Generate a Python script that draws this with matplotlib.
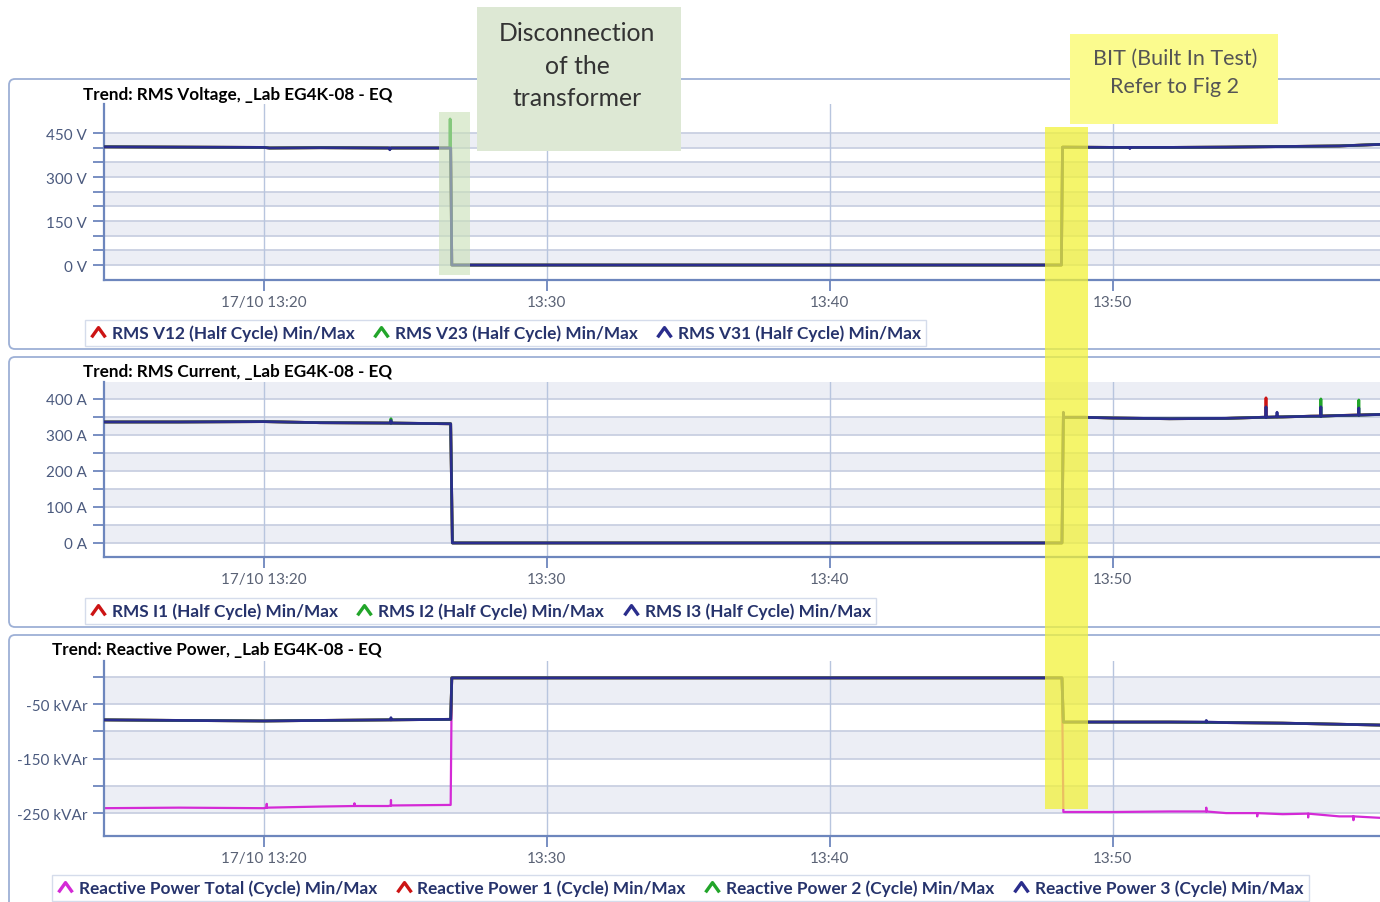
import numpy as np
import matplotlib.pyplot as plt
from matplotlib.lines import Line2D
from matplotlib.path import Path
from matplotlib.patches import Rectangle, FancyBboxPatch
from matplotlib.transforms import blended_transform_factory

plt.rcParams['font.family'] = ['Lato', 'DejaVu Sans']

# time in minutes after 13:00 on 17/10
x_ticks = [20, 30, 40, 50]
x_tick_labels = ['17/10 13:20', '13:30', '13:40', '13:50']

# RMS voltage (phases overlap)
t_volt = [14.3, 17.0, 20.0, 20.2, 22.0, 24.4, 24.45, 24.5, 26.6, 26.64, 35.0, 48.18, 48.22, 50.0, 52.0, 54.0, 56.0, 58.0, 59.9]
v_base = [403, 402, 401, 399, 400, 399, 395, 399, 399, 0, 0, 0, 402, 401, 401, 402, 404, 406, 413]
# spikes: (time, foot, top)
v12_spikes = []
v23_spikes = [(26.58, 399, 498)]
v31_spikes = [(24.45, 399, 393), (50.6, 401, 397)]

# RMS current
t_cur = [14.3, 17.0, 20.0, 22.0, 24.4, 26.6, 26.66, 35.0, 48.2, 48.25, 49.0, 50.0, 52.0, 54.0, 55.3, 56.0, 57.0, 58.0, 59.9]
i_base = [336, 336, 337, 334, 333, 331, 0, 0, 0, 349, 349, 347, 345, 346, 349, 350, 352, 354, 358]
i1_spikes = [(55.41, 349, 403)]
i2_spikes = [(24.49, 333, 345), (57.35, 352, 400), (58.69, 355, 397)]
i3_spikes = [(48.25, 349, 363), (55.41, 349, 378), (55.8, 350, 363), (57.35, 352, 378), (58.69, 355, 375), (24.49, 333, 340)]

# Reactive power
t_q = [14.3, 17.0, 20.0, 22.0, 24.4, 26.6, 26.64, 35.0, 48.2, 48.25, 50.0, 52.0, 54.0, 56.0, 58.0, 59.9]
q_phase = [-79, -80, -81, -80, -79, -78, -2, -2, -2, -83, -83, -83, -84, -85, -87, -89]
q_total = [-241, -240, -241, -238, -237, -235, -2, -2, -2, -248, -248, -247, -250, -252, -256, -260]
q_total_spikes = [(20.1, -240, -233), (24.49, -236, -226), (23.2, -237, -232), (53.3, -247, -240), (55.1, -250, -256), (56.9, -251, -258), (58.5, -256, -263)]
q3_spikes = [(24.49, -79, -75), (53.3, -83, -80)]

# event markers (minutes)
disc_band = (26.18, 27.28)
bit_band = (47.60, 49.12)

RED = '#cc1414'
GREEN = '#22a52a'
NAVY = '#2a2d8c'
MAGENTA = '#d42ad6'
FRAME = '#9db0d6'
SPINE = '#6d86bd'


def spiked(t, v, spikes):
    t = list(t)
    v = list(v)
    for ts, foot, top in spikes:
        t += [ts - 0.001, ts, ts + 0.001]
        v += [foot, top, foot]
    order = np.argsort(t, kind='stable')
    return np.array(t)[order], np.array(v)[order]


fig = plt.figure(figsize=(13.8, 9.03), dpi=100)
H = 903.0

xlim = (14.35, 14.35 + 1290 / 28.3)


def make_axes(top_px, bot_px, ylim, ticks, labels):
    ax = fig.add_axes([104 / 1380, 1 - bot_px / H, 1290 / 1380, (bot_px - top_px) / H])
    ax.set_xlim(*xlim)
    ax.set_ylim(*ylim)
    ax.set_facecolor('white')
    # alternating bands
    for k in range(len(ticks) - 1):
        if k % 2 == 0:
            ax.axhspan(ticks[k], ticks[k + 1], color='#eceef5', lw=0, zorder=0)
    ax.axhspan(ticks[-1], ylim[1], color='#eceef5' if (len(ticks) - 1) % 2 == 0 else 'white', lw=0, zorder=0)
    for y in ticks:
        ax.axhline(y, color='#c9d0e2', lw=1.3, zorder=0.5)
    for x in x_ticks:
        ax.axvline(x, color='#b8c5de', lw=1, zorder=0.5)
    ax.set_yticks(ticks)
    ax.set_yticklabels(labels)
    ax.set_xticks(x_ticks)
    ax.set_xticklabels(x_tick_labels)
    for s in ['top', 'right']:
        ax.spines[s].set_visible(False)
    for s in ['left', 'bottom']:
        ax.spines[s].set_color(SPINE)
        ax.spines[s].set_linewidth(1.6)
    ax.tick_params(axis='y', colors=SPINE, labelcolor='#4b5a7e', length=8, width=1.3, labelsize=11, pad=4)
    ax.tick_params(axis='x', colors=SPINE, labelcolor='#5a6275', length=8, width=1.3, labelsize=11, pad=3)
    return ax


caret = Path([(-1, -0.7), (0, 0.7), (1, -0.7)], [Path.MOVETO, Path.LINETO, Path.LINETO])


def add_legend(ax, colors, labels, x_px, y_px, colsp):
    handles = [Line2D([], [], color=c, marker=caret, linestyle='none', markersize=10,
                      markerfacecolor='none', markeredgewidth=2.4) for c in colors]
    leg = ax.legend(handles, labels, ncol=len(labels), loc='center left',
                    bbox_to_anchor=(x_px / 1380, 1 - y_px / H), bbox_transform=fig.transFigure,
                    frameon=True, fancybox=False, edgecolor='#cbd4e6', labelcolor='#26336c',
                    prop=dict(family='Lato', weight='bold', size=12.4),
                    handlelength=0.9, handletextpad=0.35, columnspacing=colsp,
                    borderpad=0.3, borderaxespad=0)
    leg.get_frame().set_linewidth(1.0)
    return leg


# panel frames
for top, bot in [(80, 350), (358, 628), (636, 915)]:
    fig.add_artist(FancyBboxPatch((0.09, (H - bot) / 100), 14.0, (bot - top) / 100,
                                  boxstyle='round,pad=0,rounding_size=0.06',
                                  transform=fig.dpi_scale_trans, fc='white', ec=FRAME, lw=1.3, zorder=-1))

TITLE_FS = 12.3

# --- Voltage ---
ax1 = make_axes(105, 281, (-51, 549), [0, 50, 100, 150, 200, 250, 300, 350, 400, 450],
                ['0 V', '', '', '150 V', '', '', '300 V', '', '', '450 V'])
for spikes, c in [(v12_spikes, RED), (v23_spikes, GREEN), (v31_spikes, NAVY)]:
    t, v = spiked(t_volt, v_base, spikes)
    ax1.plot(t, v, color=c, lw=2, zorder=3 if c != NAVY else 3.5)
fig.text(83 / 1380, 1 - 95 / H, 'Trend: RMS Voltage, _Lab EG4K-08 - EQ', fontsize=TITLE_FS, fontweight='bold', va='center')
add_legend(ax1, [RED, GREEN, NAVY],
           ['RMS V12 (Half Cycle) Min/Max', 'RMS V23 (Half Cycle) Min/Max', 'RMS V31 (Half Cycle) Min/Max'],
           85, 334, 1.1)

# --- Current ---
ax2 = make_axes(383, 558, (-39, 447), [0, 50, 100, 150, 200, 250, 300, 350, 400],
                ['0 A', '', '100 A', '', '200 A', '', '300 A', '', '400 A'])
for spikes, c in [(i1_spikes, RED), (i2_spikes, GREEN), (i3_spikes, NAVY)]:
    t, v = spiked(t_cur, i_base, spikes)
    ax2.plot(t, v, color=c, lw=2, zorder=3 if c != NAVY else 3.5)
fig.text(83 / 1380, 1 - 372 / H, 'Trend: RMS Current, _Lab EG4K-08 - EQ', fontsize=TITLE_FS, fontweight='bold', va='center')
add_legend(ax2, [RED, GREEN, NAVY],
           ['RMS I1 (Half Cycle) Min/Max', 'RMS I2 (Half Cycle) Min/Max', 'RMS I3 (Half Cycle) Min/Max'],
           85, 612, 1.1)

# --- Reactive power ---
ax3 = make_axes(662, 837, (-292, 29), [-250, -200, -150, -100, -50, 0],
                ['-250 kVAr', '', '-150 kVAr', '', '-50 kVAr', ''])
t, v = spiked(t_q, q_total, q_total_spikes)
ax3.plot(t, v, color=MAGENTA, lw=1.6, zorder=2)
for spikes, c in [([], RED), ([], GREEN), (q3_spikes, NAVY)]:
    t, v = spiked(t_q, q_phase, spikes)
    ax3.plot(t, v, color=c, lw=2, zorder=3 if c != NAVY else 3.5)
fig.text(52 / 1380, 1 - 650 / H, 'Trend: Reactive Power, _Lab EG4K-08 - EQ', fontsize=TITLE_FS, fontweight='bold', va='center')
add_legend(ax3, [MAGENTA, RED, GREEN, NAVY],
           ['Reactive Power Total (Cycle) Min/Max', 'Reactive Power 1 (Cycle) Min/Max',
            'Reactive Power 2 (Cycle) Min/Max', 'Reactive Power 3 (Cycle) Min/Max'],
           52, 889, 1.1)

# event bands across panels
tr = blended_transform_factory(ax1.transData, fig.dpi_scale_trans)
fig.add_artist(Rectangle((disc_band[0], (H - 276) / 100), disc_band[1] - disc_band[0], (276 - 113) / 100,
                         transform=tr, fc='#c9e0b6', alpha=0.6, lw=0, zorder=5))
fig.add_artist(Rectangle((bit_band[0], (H - 810) / 100), bit_band[1] - bit_band[0], (810 - 128) / 100,
                         transform=tr, fc='#f2f23a', alpha=0.75, lw=0, zorder=5))

# callout boxes
fig.add_artist(Rectangle((4.77, (H - 152) / 100), 2.04, 1.44, transform=fig.dpi_scale_trans,
                         fc='#dde8d4', lw=0, zorder=6))
fig.text(577 / 1380, 1 - 66 / H, 'Disconnection\nof the\ntransformer', fontsize=17.8, color='#333333',
         ha='center', va='center', linespacing=1.5, zorder=7)
fig.add_artist(Rectangle((10.70, (H - 125) / 100), 2.08, 0.90, transform=fig.dpi_scale_trans,
                         fc='#fbfb8e', lw=0, zorder=6))
fig.text(1175 / 1380, 1 - 73 / H, 'BIT (Built In Test)\nRefer to Fig 2', fontsize=15.5, color='#555555',
         ha='center', va='center', linespacing=1.55, zorder=7)

fig.savefig('out.png', dpi=100)
